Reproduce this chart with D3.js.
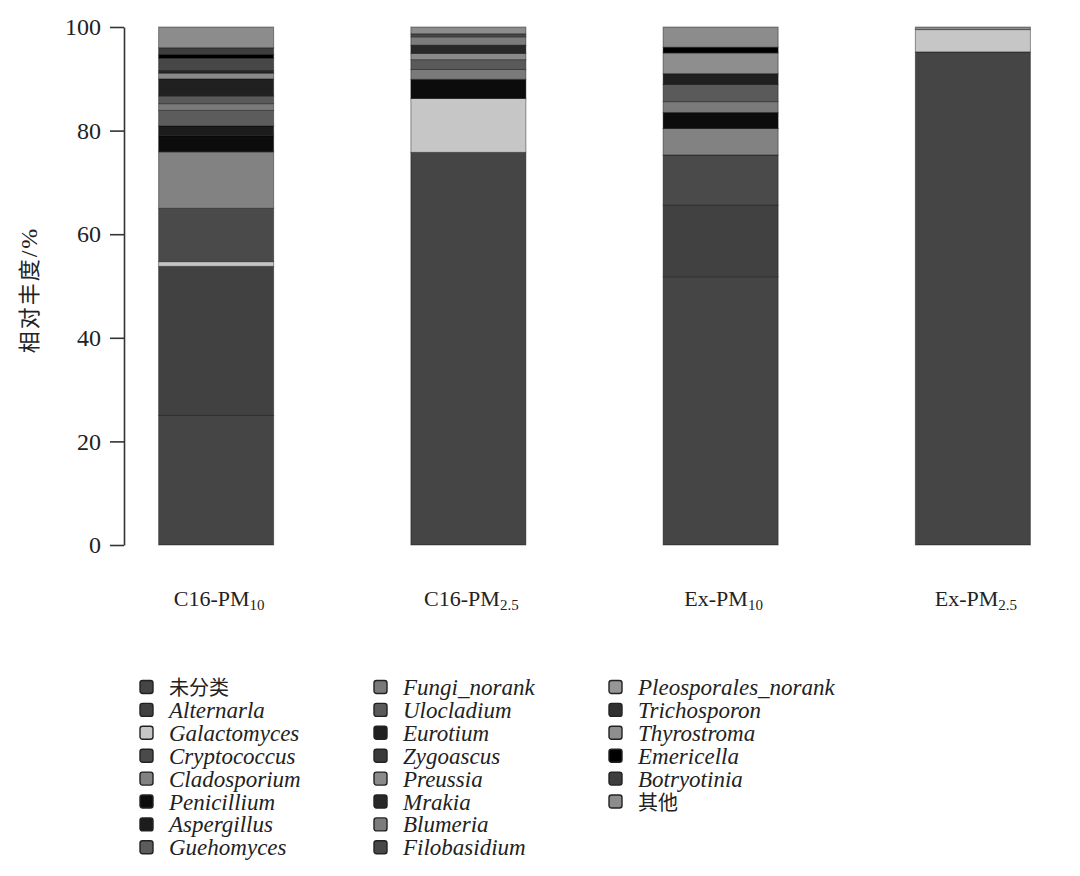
<!DOCTYPE html>
<html><head><meta charset="utf-8">
<script src="https://cdn.jsdelivr.net/npm/d3@7"></script>
<style>
html,body{margin:0;padding:0;background:#fff;}
svg{display:block;}
</style>
</head><body>
<svg id="chart" width="1080" height="876"></svg>
<script>
// ---- data ----
const samples = ["C16-PM10", "C16-PM2.5", "Ex-PM10", "Ex-PM2.5"];
const sampleBase = ["C16-PM", "C16-PM", "Ex-PM", "Ex-PM"];
const sampleSub = ["10", "2.5", "10", "2.5"];
const taxa = ["未分类","Alternarla","Galactomyces","Cryptococcus","Cladosporium","Penicillium","Aspergillus","Guehomyces",
  "Fungi_norank","Ulocladium","Eurotium","Zygoascus","Preussia","Mrakia","Blumeria","Filobasidium",
  "Pleosporales_norank","Trichosporon","Thyrostroma","Emericella","Botryotinia","其他"];
// relative abundance (%) per taxon, in sample order
const v_unclassified  = [25.0, 75.8, 51.8, 95.2];
const v_Alternarla    = [28.8, 0, 13.8, 0];
const v_Galactomyces  = [0.9, 10.4, 0, 4.3];
const v_Cryptococcus  = [10.3, 0, 9.7, 0];
const v_Cladosporium  = [10.9, 0, 5.1, 0];
const v_Penicillium   = [3.1, 3.7, 3.1, 0];
const v_Aspergillus   = [1.9, 0, 0, 0];
const v_Guehomyces    = [3.0, 0, 0, 0];
const v_Fungi_norank  = [1.3, 1.9, 2.1, 0];
const v_Ulocladium    = [1.5, 1.9, 3.3, 0];
const v_Eurotium      = [3.3, 0, 2.1, 0];
const v_Zygoascus     = [0, 0, 0, 0];
const v_Preussia      = [1.1, 1.2, 0, 0];
const v_Mrakia        = [0.5, 1.6, 0, 0];
const v_Blumeria      = [0, 1.6, 0, 0];
const v_Filobasidium  = [2.4, 0.6, 0, 0];
const v_Pleosporales  = [0, 0, 0, 0];
const v_Trichosporon  = [0, 0, 0, 0];
const v_Thyrostroma   = [0, 0, 4.0, 0];
const v_Emericella    = [0.7, 0, 1.1, 0];
const v_Botryotinia   = [1.3, 0, 0, 0];
const v_other         = [4.0, 1.3, 3.9, 0.5];
const seriesValues = [v_unclassified, v_Alternarla, v_Galactomyces, v_Cryptococcus, v_Cladosporium, v_Penicillium,
  v_Aspergillus, v_Guehomyces, v_Fungi_norank, v_Ulocladium, v_Eurotium, v_Zygoascus, v_Preussia, v_Mrakia,
  v_Blumeria, v_Filobasidium, v_Pleosporales, v_Trichosporon, v_Thyrostroma, v_Emericella, v_Botryotinia, v_other];
const taxaColors = ["#454545","#414141","#c6c6c6","#4a4a4a","#828282","#0c0c0c","#1c1c1c","#5c5c5c",
  "#7a7a7a","#5a5a5a","#202020","#3a3a3a","#8a8a8a","#282828","#7c7c7c","#474747",
  "#969696","#303030","#8e8e8e","#000000","#3e3e3e","#8c8c8c"];
const yTicks = [0, 20, 40, 60, 80, 100];

// ---- build table ----
const table = samples.map((s, i) => {
  const row = {sample: s};
  taxa.forEach((t, j) => row[t] = seriesValues[j][i]);
  return row;
});
const stacked = d3.stack().keys(taxa)(table);

const svg = d3.select("#chart");
const serif = "'Liberation Serif','Times New Roman',serif";
const cjk = "'Noto Sans CJK SC','Noto Sans CJK JP',sans-serif";

const x = d3.scaleBand().domain(samples).range([90, 1099]).paddingInner(0.544).paddingOuter(0.272);
const y = d3.scaleLinear().domain([0, 100]).range([545, 27]);
const color = d3.scaleOrdinal().domain(taxa).range(taxaColors);

// bars
svg.append("g").selectAll("g").data(stacked).join("g")
  .attr("fill", d => color(d.key))
  .selectAll("rect").data(d => d.map(p => ({p, key: d.key}))).join("rect")
  .filter(d => d.p[1] - d.p[0] > 0)
  .attr("x", d => x(d.p.data.sample))
  .attr("width", x.bandwidth())
  .attr("y", d => y(d.p[1]))
  .attr("height", d => y(d.p[0]) - y(d.p[1]))
  .attr("stroke", "rgba(0,0,0,0.4)")
  .attr("stroke-width", 1);

// y axis
const yAxis = svg.append("g").attr("transform", "translate(124,0)")
  .call(d3.axisLeft(y).tickValues(yTicks).tickSize(14).tickPadding(9).tickSizeOuter(0));
yAxis.select(".domain").attr("stroke", "#333").attr("stroke-width", 1.6);
yAxis.selectAll(".tick line").attr("stroke", "#333").attr("stroke-width", 1.6);
yAxis.selectAll(".tick text").attr("font-family", serif).attr("font-size", 24).attr("fill", "#222");

const yl = svg.append("text")
  .attr("transform", "translate(37,290) rotate(-90)")
  .attr("text-anchor", "middle")
  .attr("font-family", cjk).attr("font-size", 22).attr("fill", "#222")
  .attr("letter-spacing", 2);
yl.append("tspan").text("相对丰度");
yl.append("tspan").attr("font-family", serif).attr("font-size", 24).text("/%");

// x labels
const xl = svg.append("g").selectAll("text").data(samples).join("text")
  .attr("x", d => x(d) + x.bandwidth() / 2 + 3)
  .attr("y", 606)
  .attr("text-anchor", "middle")
  .attr("font-family", serif).attr("font-size", 22).attr("fill", "#222");
xl.append("tspan").text((d, i) => sampleBase[i]);
xl.append("tspan").attr("font-size", 15).attr("dy", 4).text((d, i) => sampleSub[i]);

// legend
const colX = [140, 374, 609];
const leg = svg.append("g").selectAll("g").data(taxa).join("g")
  .attr("transform", (d, i) => `translate(${colX[Math.floor(i / 8)]},${687 + (i % 8) * 22.9})`);
leg.append("rect").attr("x", 0).attr("y", -6.5).attr("width", 13).attr("height", 13).attr("rx", 2.5)
  .attr("fill", d => color(d)).attr("stroke", "#222").attr("stroke-width", 1.4);
leg.append("text").attr("x", 29).attr("y", 8)
  .attr("font-family", d => /[\u4e00-\u9fff]/.test(d) ? cjk : serif)
  .attr("font-style", d => /[\u4e00-\u9fff]/.test(d) ? "normal" : "italic")
  .attr("font-size", d => /[\u4e00-\u9fff]/.test(d) ? 20 : 23)
  .attr("fill", "#222")
  .text(d => d);
</script>
</body></html>
